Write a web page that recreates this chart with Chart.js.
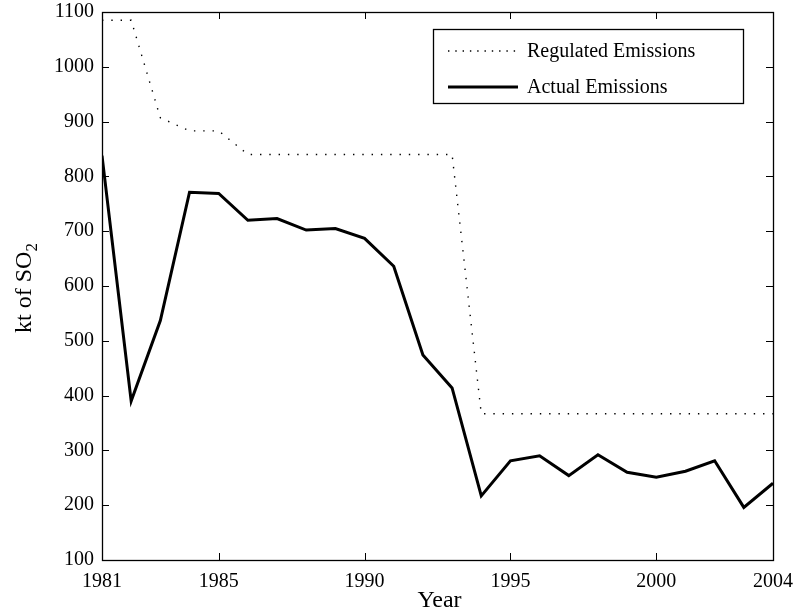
<!DOCTYPE html>
<html>
<head>
<meta charset="utf-8">
<script src="https://cdn.jsdelivr.net/npm/chart.js@4.4.1/dist/chart.umd.min.js"></script>
<style>
  html, body { margin: 0; padding: 0; background: #fff; }
  #wrap { width: 795px; height: 615px; position: relative; }
</style>
</head>
<body>
<div id="wrap"><canvas id="chart" width="795" height="615"></canvas></div>
<script>
/* data */
let years = [1981,1982,1983,1984,1985,1986,1987,1988,1989,1990,1991,1992,
             1993,1994,1995,1996,1997,1998,1999,2000,2001,2002,2003,2004];
let regulated = [1085,1085,907,883,883,840,840,840,840,840,840,840,
                 840,367,367,367,367,367,367,367,367,367,367,367];
let actual = [838,390,537,771,769,720,723,702,705,687,636,474,
              414,217,281,290,254,292,260,251,262,281,196,240];
let xTicks = [1981,1985,1990,1995,2000,2004];
let yMin = 100, yMax = 1100, yStep = 100;

let serif = "'Liberation Serif', 'DejaVu Serif', serif";

function pts(vals){
    return years.map((y,i)=>({x:y, y:vals[i]}));
}

/* keep the plot box where the reference has it */
function noPad(s){
    s.paddingTop = 0; s.paddingBottom = 0;
    s.paddingLeft = 0; s.paddingRight = 0;
}

/* box round the plot with inward ticks on all four sides */
let framePlugin = {
    id: "frame",
    afterDatasetsDraw(chart){
        let c = chart.ctx, a = chart.chartArea;
        let xs = chart.scales.x, ys = chart.scales.y;
        c.save();
        c.strokeStyle = "#000";
        c.lineWidth = 1;
        c.beginPath();
        xs.ticks.forEach(t=>{
            let px = Math.round(xs.getPixelForValue(t.value)) + 0.5;
            c.moveTo(px, a.bottom); c.lineTo(px, a.bottom - 7);
            c.moveTo(px, a.top); c.lineTo(px, a.top + 7);
        });
        ys.ticks.forEach(t=>{
            let py = Math.round(ys.getPixelForValue(t.value)) + 0.5;
            c.moveTo(a.left, py); c.lineTo(a.left + 7, py);
            c.moveTo(a.right, py); c.lineTo(a.right - 7, py);
        });
        c.stroke();
        c.lineWidth = 1.3;
        c.strokeRect(Math.round(a.left)+0.5, Math.round(a.top)+0.5,
                     Math.round(a.right-a.left), Math.round(a.bottom-a.top));
        c.restore();
    }
};

/* legend box inside the plot, top right */
let legendPlugin = {
    id: "boxLegend",
    afterDraw(chart){
        let c = chart.ctx;
        let bx = 433, by = 29, bw = 310, bh = 74;
        c.save();
        c.fillStyle = "#fff";
        c.fillRect(bx, by, bw, bh);
        c.strokeStyle = "#000";
        c.lineWidth = 1.3;
        c.strokeRect(bx+0.5, by+0.5, bw, bh);
        chart.data.datasets.forEach((ds,i)=>{
            let ly = by + 22 + i*36;
            c.beginPath();
            // legend dots sit a bit closer than in the plot
            c.setLineDash(ds.borderDash ? [1.4, 5.9] : []);
            c.lineWidth = ds.borderWidth;
            c.strokeStyle = ds.borderColor;
            c.moveTo(448, ly); c.lineTo(518, ly);
            c.stroke();
            c.setLineDash([]);
            c.fillStyle = "#000";
            c.font = "20px " + serif;
            c.textBaseline = "middle";
            c.textAlign = "left";
            c.fillText(ds.label, 527, ly + 1);
        });
        c.restore();
    }
};

/* axis titles, the y one has a subscript */
let titlePlugin = {
    id: "titles",
    afterDraw(chart){
        let c = chart.ctx, a = chart.chartArea;
        c.save();
        c.fillStyle = "#000";
        c.font = "24px " + serif;
        c.textAlign = "center";
        c.textBaseline = "alphabetic";
        c.fillText("Year", (a.left + a.right)/2 + 2, 607);

        let main = "kt of SO", sub = "2";
        c.font = "24px " + serif;
        let w1 = c.measureText(main).width;
        c.font = "17px " + serif;
        let w2 = c.measureText(sub).width;
        let total = w1 + w2;
        c.translate(30.5, 288);
        c.rotate(-Math.PI/2);
        c.textAlign = "left";
        c.font = "24px " + serif;
        c.fillText(main, -total/2, 0);
        c.font = "17px " + serif;
        c.fillText(sub, -total/2 + w1, 6);
        c.restore();
    }
};

new Chart(document.getElementById("chart"), {
    type: "line",
    data: {
        datasets: [{
            label: "Regulated Emissions",
            data: pts(regulated),
            borderColor: "#000",
            borderWidth: 1.4,
            borderDash: [1.4, 7.9],
            pointRadius: 0,
            fill: false
        },{
            label: "Actual Emissions",
            data: pts(actual),
            borderColor: "#000",
            borderWidth: 3,
            pointRadius: 0,
            fill: false
        }]
    },
    options: {
        responsive: false,
        animation: false,
        layout: { padding: { top: 12, right: 22, left: 0, bottom: 0 } },
        plugins: { legend: { display: false }, tooltip: { enabled: false } },
        scales: {
            x: {
                type: "linear",
                min: years[0], max: years[years.length-1],
                afterBuildTicks: s => { s.ticks = xTicks.map(v=>({value:v})); },
                afterFit: s => { s.height = 55; noPad(s); },
                grid: { display: false, drawTicks: false },
                border: { display: false },
                ticks: {
                    color: "#000",
                    font: { family: serif, size: 20 },
                    padding: 10,
                    maxRotation: 0,
                    autoSkip: false,
                    callback: v => String(v)
                }
            },
            y: {
                min: yMin, max: yMax,
                afterFit: s => { s.width = 102; noPad(s); },
                grid: { display: false, drawTicks: false },
                border: { display: false },
                ticks: {
                    stepSize: yStep,
                    color: "#000",
                    font: { family: serif, size: 20 },
                    padding: 8,
                    callback: v => String(v)
                }
            }
        }
    },
    plugins: [framePlugin, titlePlugin, legendPlugin]
});
</script>
</body>
</html>
